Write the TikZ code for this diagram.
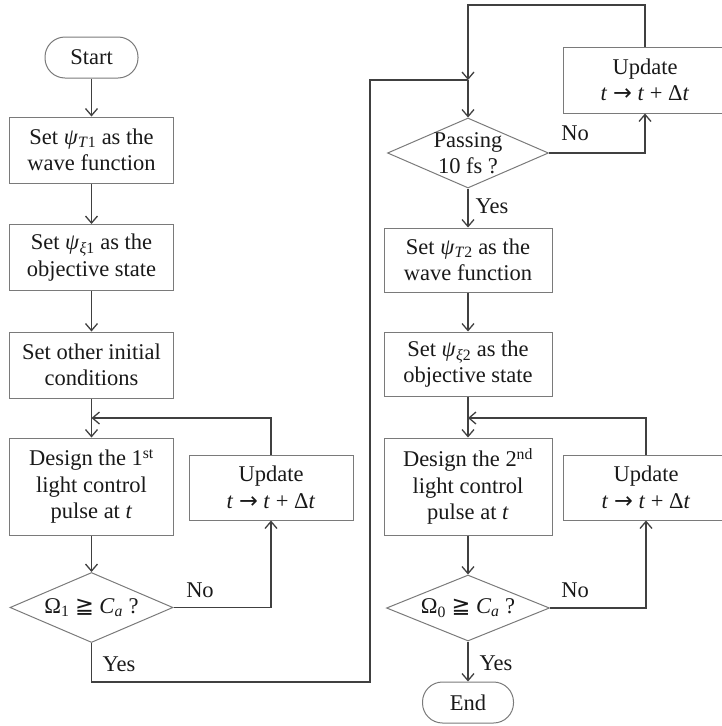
\documentclass[tikz,border=0pt]{standalone}
\usepackage{fontspec}
\setmainfont{Liberation Serif}
\newfontfamily\symf{DejaVu Sans}
\usetikzlibrary{arrows.meta,shapes.geometric}
\definecolor{boxc}{HTML}{7A7A7A}
\definecolor{linec}{HTML}{404040}
\begin{document}
\begin{tikzpicture}[x=1pt,y=-1pt,
  txt/.style={font=\fontsize{22.5}{26.5}\selectfont, text=black!90},
  box/.style={txt, draw=boxc, line width=1pt, rectangle, align=center, inner sep=0pt},
  term/.style={box, rounded corners=20pt},
  dia/.style={draw=boxc, line width=1pt, diamond, inner sep=0pt},
  conn/.style={draw=linec, line width=1.4pt},
  arr/.style={conn, -{Straight Barb[length=7pt,width=12pt,line width=1.3pt]}},
  lab/.style={txt, inner sep=0pt, align=center}]
\useasboundingbox (0,0) rectangle (722,726);

% left column
\node[term, minimum width=93pt, minimum height=41pt] (start) at (91.5,57.5) {Start};
\node[box, minimum width=164pt, minimum height=66pt] (b1) at (91.5,150) {Set \textit{ψ}\textsubscript{\textit{T}1} as the\\wave function};
\node[box, minimum width=164pt, minimum height=66pt] (b2) at (91.5,257.5) {Set \textit{ψ}\textsubscript{\textit{ξ}1} as the\\objective state};
\node[box, minimum width=164pt, minimum height=66pt] (b3) at (91.5,365) {Set other initial\\conditions};
\node[box, minimum width=164pt, minimum height=97pt] (des1) at (91.5,486.5) {Design the 1\textsuperscript{st}\\light control\\pulse at \textit{t}};
\node[box, minimum width=164pt, minimum height=65pt] (up1) at (271,487.5) {Update\\\textit{t} {\symf →} \textit{t} + Δ\textit{t}};
\node[dia, minimum width=163pt, minimum height=70pt] (d1) at (91.5,607.5) {};
\node[lab] (d1t) at (d1.center) {Ω\textsubscript{1} {\symf ≧} \textit{C}\textsubscript{\textit{a}} ?};

% right column
\node[box, minimum width=164pt, minimum height=66pt] (upt) at (645,80) {Update\\\textit{t} {\symf →} \textit{t} + Δ\textit{t}};
\node[dia, minimum width=161pt, minimum height=70pt] (d2) at (468,153) {};
\node[lab] (d2t) at (d2.center) {Passing\\10 fs ?};
\node[box, minimum width=168pt, minimum height=64pt] (b4) at (468,260) {Set \textit{ψ}\textsubscript{\textit{T}2} as the\\wave function};
\node[box, minimum width=168pt, minimum height=64pt] (b5) at (468,364) {Set \textit{ψ}\textsubscript{\textit{ξ}2} as the\\objective state};
\node[box, minimum width=168pt, minimum height=97pt] (des2) at (468,486.5) {Design the 2\textsuperscript{nd}\\light control\\pulse at \textit{t}};
\node[box, minimum width=166pt, minimum height=65pt] (up2) at (646,487.5) {Update\\\textit{t} {\symf →} \textit{t} + Δ\textit{t}};
\node[dia, minimum width=163pt, minimum height=66pt] (d3) at (468,608) {};
\node[lab] (d3t) at (d3.center) {Ω\textsubscript{0} {\symf ≧} \textit{C}\textsubscript{\textit{a}} ?};
\node[term, minimum width=91pt, minimum height=41pt] (end) at (468,702.5) {End};

% labels
\node[lab] (no1) at (200,590) {No};
\node[lab] (yes1) at (119,664) {Yes};
\node[lab] (no2) at (575,133) {No};
\node[lab] (yes2) at (492,206) {Yes};
\node[lab] (no3) at (575,590) {No};
\node[lab] (yes3) at (496,663) {Yes};

% coordinates
\coordinate (m1) at (91.5,418);
\coordinate (m2) at (468,418);
\coordinate (m0) at (468,80);
\coordinate (t1) at (468,5);
\coordinate (y1) at (370,682);
\coordinate (y2) at (370,80);

% left connectors
\draw[arr] (start) -- (b1);
\draw[arr] (b1) -- (b2);
\draw[arr] (b2) -- (b3);
\draw[arr] (b3) -- (des1);
\draw[arr] (up1.north) |- (m1);
\draw[arr] (des1) -- (d1);
\draw[arr] (d1.east) -| (up1.south);
\draw[conn] (d1.south) |- (y1) -- (y2) -- (m0);

% right connectors
\draw[arr] (upt.north) |- (t1) -- (m0);
\draw[arr] (m0) -- (d2.north);
\draw[arr] (d2.east) -| (upt.south);
\draw[arr] (d2) -- (b4);
\draw[arr] (b4) -- (b5);
\draw[arr] (b5) -- (des2);
\draw[arr] (up2.north) |- (m2);
\draw[arr] (des2) -- (d3);
\draw[arr] (d3.east) -| (up2.south);
\draw[arr] (d3) -- (end);
\end{tikzpicture}
\end{document}
